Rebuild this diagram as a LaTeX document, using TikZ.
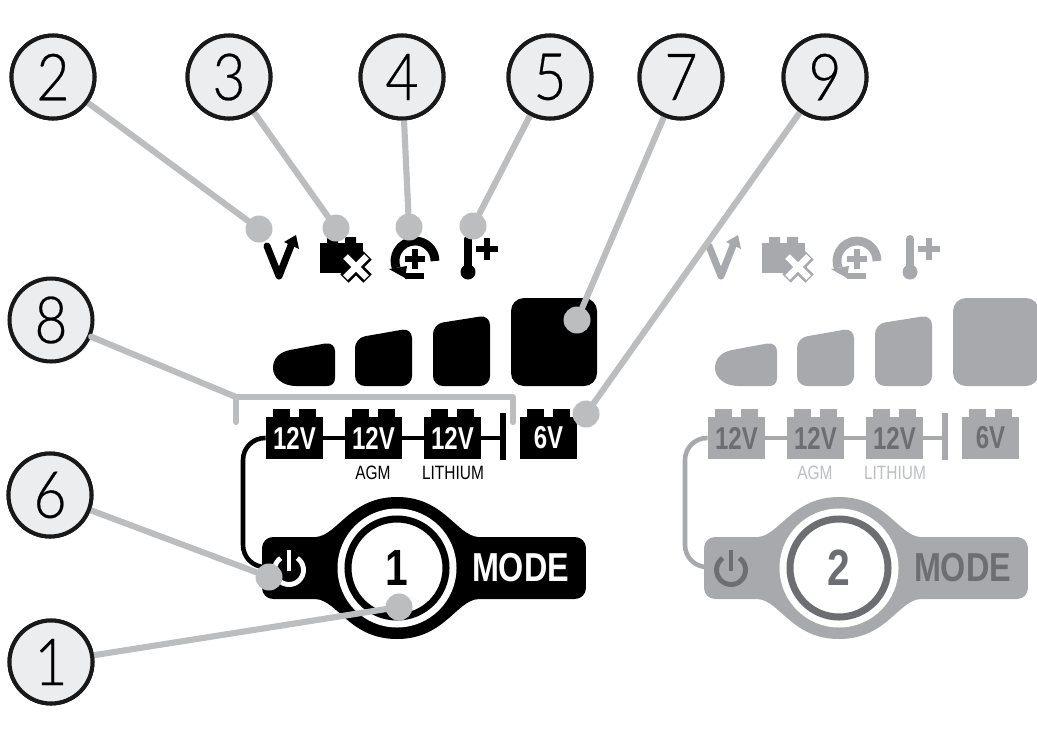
\documentclass[tikz,border=0pt]{standalone}
\usepackage{fontspec}
\setmainfont{Liberation Sans}
\newfontfamily\numfont[FakeStretch=0.88,FakeBold=0.4]{Lato Light}
\newfontfamily\boxfont[FakeStretch=0.76]{Liberation Sans}
\newfontfamily\notefont[FakeStretch=0.8]{Liberation Sans}
\newfontfamily\modefont[FakeStretch=0.8]{Liberation Sans}
\definecolor{panelgray}{HTML}{A7A9AC}
\definecolor{inkgray}{HTML}{6D6E71}
\definecolor{notegray}{HTML}{BCBEC0}
\definecolor{calloutgray}{HTML}{BCBDBF}
\definecolor{calloutfill}{HTML}{ECEDEE}
\tikzset{
	callout/.style={circle,draw=black!90,line width=2.3pt,fill=calloutfill,minimum size=1.66cm,inner sep=0pt,font=\numfont\fontsize{37}{37}\selectfont},
	dot/.style={circle,fill=calloutgray,minimum size=.54cm,inner sep=0pt},
	leader/.style={calloutgray,line width=3.5pt,line cap=round,line join=round},
	battery/.style={fill=panelmain,text=panelink,minimum width=1.14cm,minimum height=.84cm,inner sep=0pt,font=\bfseries\boxfont\fontsize{18}{18}\selectfont},
	note/.style={text=panelnote,inner sep=0pt,font=\notefont\fontsize{11}{11}\selectfont},
	link/.style={panelmain,line width=2.6pt},
}
\begin{document}
\begin{tikzpicture}[x=.02cm,y=-.02cm]
	\newcommand\DrawBattery[3]{
		\node[battery] (#1) at ({#2+28.5},438) {#3};
		\fill[panelmain] ({#2+7},409) rectangle ({#2+24},418);
		\fill[panelmain] ({#2+33},409) rectangle ({#2+50},418);
	}
	\newcommand\DrawPanel[3]{
		\begin{scope}[shift={(#1,0)},name prefix=#2-]
			% icons
			\draw[panelmain,line width=4pt,line cap=round,line join=round] (267,246) -- (279,276) -- (292,243);
			\fill[panelmain] (284,242) -- (296,235) -- (299,249) -- cycle;
			\fill[panelmain] (320,243) rectangle (363,273);
			\fill[panelmain] (327,237) rectangle (338,243) (345,237) rectangle (356,243);
			\draw[panelmain,line width=6.8pt] (344.5,255.5) -- (367.5,278.5) (367.5,255.5) -- (344.5,278.5);
			\draw[white,line width=3.8pt] (345.5,256.5) -- (366.5,277.5) (366.5,256.5) -- (345.5,277.5);
			\draw[panelmain,line width=5pt] (435,261) arc (0:-200:20);
			\fill[panelmain] (389,269) -- (407,266) -- (405,278) -- cycle;
			\draw[panelmain,line width=3.9pt] (405,259) -- (425,259) (415,249) -- (415,269);
			\draw[panelmain,line width=3.6pt] (405,276) -- (424,276);
			\draw[panelmain,line width=4.6pt,line cap=round] (468,239) -- (468,270);
			\fill[panelmain] (468,272) circle (7.5);
			\draw[panelmain,line width=3.2pt] (476,249) -- (498,249) (487,238) -- (487,260);
			% level bars
			\fill[panelmain] (296,386) .. controls (283,386) and (273,378) .. (273,368) .. controls (273,358) and (280,352) .. (290,350) -- (325,343.5) .. controls (331,342.5) and (335,346) .. (335,351) -- (335,378) .. controls (335,383) and (332,386) .. (327,386) -- cycle;
			\fill[panelmain,rounded corners=.2cm] (355,386) -- (355,338) -- (412,328) -- (412,386) -- cycle;
			\fill[panelmain,rounded corners=.2cm] (433,386) -- (433,324) -- (490,315) -- (490,386) -- cycle;
			\fill[panelmain,rounded corners=.26cm] (511,298) rectangle (597,386);
			% batteries
			\DrawBattery{bat1}{266}{12V}
			\DrawBattery{bat2}{345}{12V}
			\DrawBattery{bat3}{424}{12V}
			\DrawBattery{bat4}{520}{6V}
			\node[fill=panelmain,minimum width=.12cm,minimum height=.94cm,inner sep=0pt] (stopbar) at (503,436.5) {};
			\node[note] (agm) at (373,473) {AGM};
			\node[note] (lithium) at (453,473) {LITHIUM};
			% switch
			\fill[panelmain] (316,537) .. controls (338,535) and (350,497) .. (397,497) .. controls (444,497) and (456,535) .. (478,537) -- (478,599) .. controls (456,601) and (444,639) .. (397,639) .. controls (350,639) and (338,601) .. (316,599) -- cycle;
			\node[fill=panelmain,rounded corners=.22cm,minimum width=6.48cm,minimum height=1.24cm,inner sep=0pt] (pill) at (424,568) {};
			\fill[white] (397,568) circle (59.5);
			\draw[panelring,line width=4pt] (397,568) circle (49);
			\node[text=panelring,font=\bfseries\modefont\fontsize{29}{29}\selectfont] (number) at (397,568) {#3};
			\node[text=panelink,font=\bfseries\modefont\fontsize{23}{23}\selectfont] (mode) at (520.5,568) {MODE};
			\draw[panelink,line width=2.8pt] (289,570) ++(-55:14.5) arc (-55:235:14.5);
			\draw[panelink,line width=2.8pt] (289,550) -- (289,571);
			% wiring
			\draw[link] (bat1) -- (bat2);
			\draw[link] (bat2) -- (bat3);
			\draw[link] (bat3) -- (bat3 -| stopbar);
			\draw[link,rounded corners=.44cm] (bat1.west) -- (243,438) -- (243,567) -- (pill.west |- 0,567);
		\end{scope}
	}
	\useasboundingbox (0,0) rectangle (1037,734);
	\colorlet{panelmain}{panelgray}\colorlet{panelink}{inkgray}\colorlet{panelnote}{notegray}\colorlet{panelring}{inkgray}
	\DrawPanel{442}{off}{2}
	\colorlet{panelmain}{black}\colorlet{panelink}{white}\colorlet{panelnote}{black}\colorlet{panelring}{black}
	\DrawPanel{0}{on}{1}
	% callouts
	\foreach \i/\x/\y in {2/53/77,3/229/77,4/402/77,5/550/77,7/681/77,9/825/77,8/51/320,6/50/495,1/51/662}
		\node[callout] (c\i) at (\x,\y) {\i};
	\foreach \i/\x/\y in {2/259/229,3/336/228,4/409/227,5/473/226,7/577/320,9/586/414,6/269/577,1/399/607}{
		\node[dot] (d\i) at (\x,\y) {};
		\draw[leader] (c\i) -- (d\i);
	}
	\foreach \i in {1,...,7,9}
		\node[callout] at (c\i) {\i};
	\coordinate (bracketA) at (236,422);
	\coordinate (bracketB) at (236,397);
	\coordinate (bracketC) at (513,397);
	\coordinate (bracketD) at (513,422);
	\draw[leader] (c8) -- (bracketB);
	\draw[leader] (bracketA) -- (bracketB) -- (bracketC) -- (bracketD);
\end{tikzpicture}
\end{document}
